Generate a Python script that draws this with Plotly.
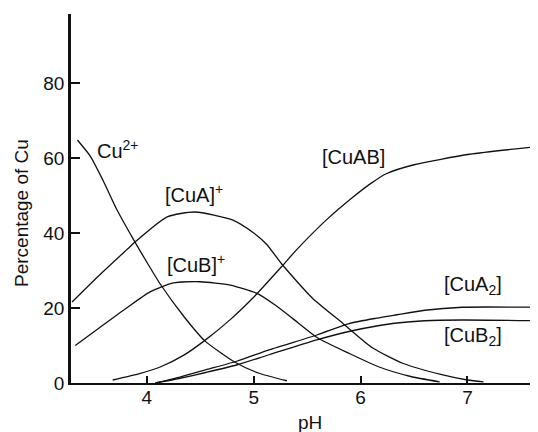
import plotly.graph_objects as go

# pH values and percentages
cu2_ph  = [3.35, 3.47, 3.59, 3.72, 3.87, 4.00, 4.12, 4.35, 4.54, 4.82, 5.05, 5.31]
cu2_pct = [64.8, 60.5, 54.0, 46.2, 38.5, 32.2, 26.6, 17.6, 11.3, 5.6, 2.6, 0.6]

cua_ph  = [3.30, 3.55, 3.81, 3.89, 4.19, 4.45, 4.80, 5.00, 5.12, 5.26, 5.55, 5.83, 6.11, 6.40, 6.75, 7.00, 7.15]
cua_pct = [21.6, 28.6, 35.5, 37.6, 44.3, 45.6, 43.5, 40.0, 37.0, 31.8, 22.6, 16.0, 9.4, 5.2, 2.3, 0.8, 0.3]

cub_ph  = [3.33, 3.55, 3.81, 4.03, 4.25, 4.50, 4.78, 5.03, 5.20, 5.36, 5.60, 5.90, 6.18, 6.46, 6.74]
cub_pct = [10.0, 14.6, 20.0, 24.3, 26.7, 27.0, 26.1, 23.9, 20.8, 17.3, 12.0, 7.8, 4.2, 1.8, 0.3]

cuab_ph  = [3.68, 3.93, 4.12, 4.35, 4.54, 4.78, 5.01, 5.26, 5.40, 5.68, 5.93, 6.10, 6.24, 6.50, 7.02, 7.64]
cuab_pct = [0.8, 2.5, 4.2, 7.5, 11.3, 16.9, 23.2, 31.0, 35.5, 43.5, 49.6, 53.3, 55.8, 58.2, 61.0, 63.0]

cua2_ph  = [4.08, 4.30, 4.55, 4.84, 5.15, 5.59, 5.90, 6.15, 6.34, 6.60, 6.95, 7.64]
cua2_pct = [0.0, 1.5, 3.5, 5.8, 8.9, 12.8, 15.9, 17.3, 18.2, 19.4, 20.2, 20.2]

cub2_ph  = [4.08, 4.30, 4.55, 4.84, 5.15, 5.59, 5.90, 6.15, 6.34, 6.60, 6.95, 7.64]
cub2_pct = [0.0, 1.2, 2.8, 4.8, 7.6, 11.5, 13.8, 15.2, 16.0, 16.6, 16.8, 16.6]

x_ticks = [4, 5, 6, 7]
y_ticks = [0, 20, 40, 60, 80]

FONT = "Liberation Sans, Arial, Helvetica, sans-serif"
INK = "#111111"
LINE = dict(color=INK, width=1.3, shape="spline", smoothing=0.6)

fig = go.Figure()
for xs, ys, name in [
    (cu2_ph, cu2_pct, "Cu2+"),
    (cua_ph, cua_pct, "[CuA]+"),
    (cub_ph, cub_pct, "[CuB]+"),
    (cuab_ph, cuab_pct, "[CuAB]"),
    (cua2_ph, cua2_pct, "[CuA2]"),
    (cub2_ph, cub2_pct, "[CuB2]"),
]:
    fig.add_trace(go.Scatter(x=xs, y=ys, mode="lines", line=LINE, name=name,
                             showlegend=False, hoverinfo="skip"))

labels = [
    ("Cu<sup>2+</sup>", 3.73, 62.4),
    ("[CuA]<sup>+</sup>", 4.44, 50.6),
    ("[CuB]<sup>+</sup>", 4.46, 32.0),
    ("[CuAB]", 5.935, 60.2),
    ("[CuA<sub>2</sub>]", 7.05, 25.9),
    ("[CuB<sub>2</sub>]", 7.05, 12.4),
]
for txt, x, y in labels:
    fig.add_annotation(x=x, y=y, text=txt, showarrow=False,
                       xanchor="center", yanchor="middle",
                       font=dict(family=FONT, size=20, color=INK))

fig.add_annotation(xref="paper", yref="paper", x=(310 - 71) / 467, y=-0.108,
                   text="pH", showarrow=False, xanchor="center", yanchor="middle",
                   font=dict(family=FONT, size=19, color=INK))
fig.add_annotation(xref="paper", yref="paper", x=(22 - 71) / 467, y=(383 - 213) / 369,
                   text="Percentage of Cu", showarrow=False, textangle=-90,
                   xanchor="center", yanchor="middle",
                   font=dict(family=FONT, size=19, color=INK))

fig.update_layout(
    width=538, height=432,
    margin=dict(l=63, r=8, t=6, b=57),
    paper_bgcolor="white", plot_bgcolor="white",
    font=dict(family=FONT, size=19, color=INK),
)
fig.update_xaxes(range=[3.29, 7.66], tickvals=x_ticks, ticktext=[str(v) for v in x_ticks],
                 showgrid=False, zeroline=False, showline=True, linewidth=2.2,
                 linecolor=INK, ticks="inside", ticklen=7, tickwidth=1.5,
                 tickcolor=INK, tickfont=dict(size=19), ticklabelstandoff=-4,
                 automargin=False)
fig.update_yaxes(range=[0, 98.4], tickvals=y_ticks, ticktext=[str(v) for v in y_ticks],
                 showgrid=False, zeroline=False, showline=True, linewidth=2.6,
                 linecolor=INK, ticks="inside", ticklen=9, tickwidth=1.5,
                 tickcolor=INK, tickfont=dict(size=19), automargin=False)

fig.write_html("out.html")
